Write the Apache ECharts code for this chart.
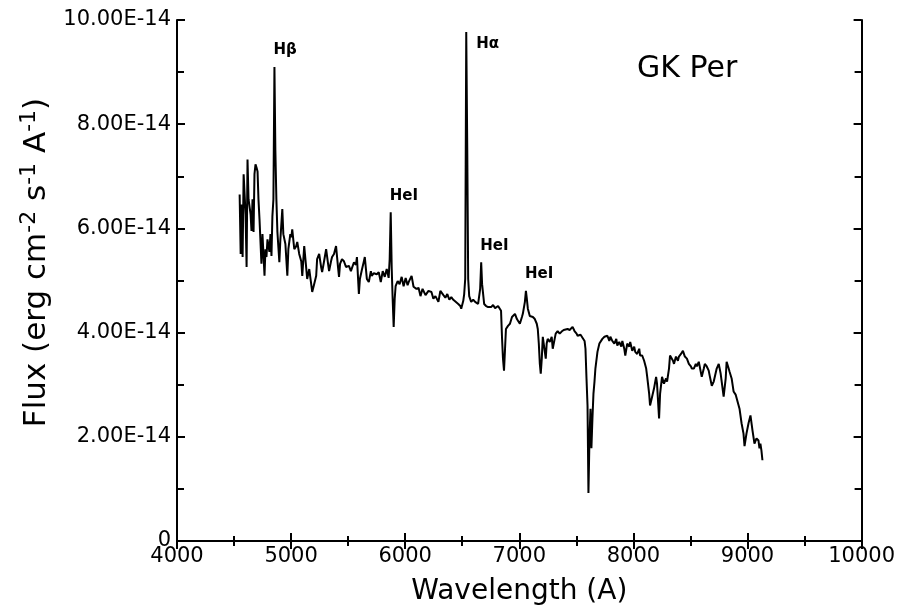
<!DOCTYPE html>
<html>
<head>
<meta charset="utf-8">
<script src="https://cdn.jsdelivr.net/npm/echarts@6/dist/echarts.min.js"></script>
<style>
html,body{margin:0;padding:0;background:#fff;}
#chart{width:898px;height:611px;}
</style>
</head>
<body>
<div id="chart"></div>
<script>
// Wavelength (Angstrom)
const wavelength = [
4549,4558,4566,4575,4584,4601,4610,4618,4627,4645,4653,4662,4671,4679,4688,4697,4706,4714,4723,4740,
4749,4767,4775,4784,4793,4810,4819,4828,4836,4845,4854,4862,4871,4880,4897,4906,4923,4932,4950,4967,
4976,4993,5002,5010,5028,5045,5054,5071,5089,5098,5115,5132,5141,5159,5185,5202,5220,5228,5246,5263,
5272,5289,5307,5324,5333,5350,5359,5376,5394,5411,5420,5429,5446,5463,5481,5507,5524,5551,5568,5577,
5594,5603,5620,5638,5646,5664,5681,5699,5707,5725,5751,5768,5786,5803,5821,5838,5855,5864,5873,5882,
5890,5899,5908,5916,5934,5951,5969,5986,6004,6021,6030,6056,6073,6099,6117,6134,6152,6178,6204,6230,
6247,6265,6291,6308,6335,6352,6369,6387,6404,6422,6439,6465,6483,6491,6509,6517,6526,6535,6544,6552,
6561,6578,6596,6613,6639,6657,6666,6674,6692,6709,6727,6753,6770,6788,6814,6831,6840,6849,6857,6866,
6875,6883,6901,6918,6936,6962,6979,7005,7023,7031,7049,7058,7066,7075,7092,7119,7136,7153,7162,7171,
7180,7188,7197,7206,7214,7232,7240,7249,7267,7284,7293,7310,7319,7336,7354,7371,7389,7397,7423,7441,
7467,7484,7502,7511,7537,7554,7572,7580,7589,7598,7606,7615,7624,7632,7641,7650,7659,7667,7685,7702,
7728,7746,7772,7789,7798,7815,7833,7850,7859,7876,7894,7903,7920,7929,7946,7964,7972,7990,8007,8016,
8033,8051,8059,8077,8094,8112,8120,8138,8146,8164,8181,8199,8207,8225,8234,8251,8268,8286,8295,8312,
8321,8329,8347,8356,8373,8390,8399,8417,8434,8451,8469,8486,8504,8512,8530,8547,8556,8573,8582,8599,
8617,8626,8643,8660,8669,8687,8704,8730,8748,8765,8791,8809,8817,8835,8843,8861,8878,8896,8913,8930,
8948,8965,8974,8991,9009,9026,9044,9061,9079,9096,9105,9113,9122,9131
];
// Flux in units of 1E-14 erg cm^-2 s^-1 A^-1
const flux = [
6.65,5.51,6.46,5.45,7.04,6.27,5.26,7.32,6.56,6.27,5.95,6.56,5.93,7.04,7.23,7.17,7.09,6.56,6.18,5.32,
5.89,5.09,5.60,5.45,5.79,5.55,5.89,5.47,6.23,6.56,9.10,7.51,6.56,5.93,5.35,5.79,6.37,5.89,5.70,5.09,
5.60,5.89,5.83,5.98,5.60,5.66,5.74,5.51,5.37,5.09,5.66,5.66,5.03,5.22,4.78,4.93,5.09,5.41,5.51,5.26,
5.16,5.37,5.60,5.32,5.18,5.37,5.45,5.51,5.66,5.26,5.07,5.32,5.41,5.37,5.26,5.28,5.18,5.35,5.30,5.45,
4.74,5.03,5.20,5.37,5.45,5.03,4.97,5.18,5.09,5.14,5.12,5.16,4.97,5.18,5.07,5.22,5.05,5.41,6.31,5.22,
4.65,4.11,4.65,4.89,4.99,4.93,5.07,4.89,5.05,4.91,4.97,5.09,4.88,4.84,4.86,4.70,4.84,4.72,4.80,4.78,
4.65,4.70,4.59,4.80,4.72,4.67,4.74,4.63,4.68,4.63,4.65,4.55,4.51,4.46,4.61,4.74,5.03,9.77,7.51,5.03,
4.70,4.59,4.63,4.59,4.55,4.84,5.35,4.93,4.55,4.51,4.49,4.49,4.53,4.47,4.51,4.49,4.42,3.88,3.50,3.27,
3.69,4.07,4.13,4.17,4.30,4.36,4.26,4.17,4.30,4.36,4.59,4.80,4.65,4.46,4.32,4.30,4.26,4.17,4.07,3.79,
3.40,3.21,3.50,3.92,3.79,3.50,3.79,3.88,3.82,3.92,3.69,3.88,3.98,4.03,3.98,4.02,4.05,4.03,4.07,4.05,
4.11,4.03,3.98,3.94,3.96,3.94,3.84,3.69,3.12,2.60,0.92,1.97,2.54,1.78,2.35,2.83,3.06,3.31,3.63,3.79,
3.88,3.92,3.94,3.84,3.92,3.84,3.79,3.88,3.75,3.82,3.73,3.84,3.69,3.56,3.79,3.73,3.82,3.65,3.73,3.63,
3.59,3.69,3.56,3.56,3.46,3.31,3.17,2.83,2.60,2.77,2.93,3.15,3.02,2.35,2.83,3.15,3.02,3.12,3.06,3.31,
3.56,3.59,3.46,3.40,3.54,3.46,3.54,3.59,3.65,3.54,3.50,3.40,3.35,3.31,3.31,3.40,3.35,3.44,3.46,3.15,
3.31,3.40,3.35,3.27,3.17,2.98,3.06,3.31,3.40,3.21,2.77,3.12,3.44,3.31,3.25,3.12,2.87,2.81,2.79,2.54,
2.26,2.06,1.82,2.06,2.26,2.41,2.12,1.87,1.97,1.93,1.78,1.87,1.74,1.55
];
// Axis ranges / ticks
const xMin = 4000, xMax = 10000, xStep = 1000;
const yMin = 0, yMax = 10, yStep = 2;
const fluxExponent = -14;
// Emission line identifications (label, approx. wavelength of the peak)
const lineNames = ['Hβ', 'HeI', 'Hα', 'HeI', 'HeI'];
const lineWavelengths = [4854, 5873, 6535, 6666, 7058];
const objectName = 'GK Per';

const FONT = 'DejaVu Sans';
const seriesData = wavelength.map((w, i) => [w, flux[i]]);

function peakNear(wl) {
  let best = -Infinity;
  wavelength.forEach((w, i) => { if (Math.abs(w - wl) <= 15 && flux[i] > best) best = flux[i]; });
  return best;
}
// label placement styles (pixels, relative to the peak)
const labelOffset = { 'Hα': { position: [10, 5], verticalAlign: 'top' } };
const defaultOffset = { position: [-1, -9], verticalAlign: 'bottom' };

const markData = lineNames.map((n, i) => {
  const o = labelOffset[n] || defaultOffset;
  return {
    coord: [lineWavelengths[i], peakNear(lineWavelengths[i])],
    name: n,
    label: { show: true, formatter: '{b}', position: o.position, align: 'left', verticalAlign: o.verticalAlign,
             color: '#000', fontFamily: FONT, fontWeight: 'bold', fontSize: 15 }
  };
});

const tickStyle = { show: true, inside: true, length: 8, lineStyle: { color: '#000', width: 2 } };
const minorStyle = { show: true, splitNumber: 2, length: 5, lineStyle: { color: '#000', width: 2 } };
const axisLineStyle = { color: '#000', width: 2 };

const chart = echarts.init(document.getElementById('chart'), null, { renderer: 'canvas' });
const option = {
  animation: false,
  backgroundColor: '#fff',
  title: {
    text: objectName, left: 632, top: 49,
    textStyle: { fontFamily: FONT, fontWeight: 'normal', fontSize: 30, color: '#000' }
  },
  grid: { left: 177, right: 33, top: 20, bottom: 69, containLabel: false },
  xAxis: [{
    type: 'value', min: xMin, max: xMax, interval: xStep, position: 'bottom',
    name: 'Wavelength (A)', nameLocation: 'middle', nameGap: 37,
    nameTextStyle: { fontFamily: FONT, fontSize: 28, color: '#000' },
    axisLine: { show: true, lineStyle: axisLineStyle },
    axisTick: tickStyle, minorTick: minorStyle,
    axisLabel: { color: '#000', fontFamily: FONT, fontSize: 21, margin: 5, formatter: v => String(v) },
    splitLine: { show: false }, minorSplitLine: { show: false }
  }, {
    type: 'value', min: xMin, max: xMax, interval: xStep, position: 'top',
    axisLine: { show: true, lineStyle: axisLineStyle },
    axisTick: tickStyle, minorTick: minorStyle,
    axisLabel: { show: false }, splitLine: { show: false }, minorSplitLine: { show: false }
  }],
  yAxis: [{
    type: 'value', min: yMin, max: yMax, interval: yStep, position: 'left',
    name: 'Flux (erg cm{sup|-2} s{sup|-1} A{sup|-1})', nameLocation: 'middle', nameGap: 120,
    nameTextStyle: {
      fontFamily: FONT, fontSize: 31, color: '#000', padding: [0, 0, 0, 36],
      rich: { sup: { fontFamily: FONT, fontSize: 22, color: '#000', verticalAlign: 'top', padding: [0, 0, 15, 0] } }
    },
    axisLine: { show: true, lineStyle: axisLineStyle },
    axisTick: tickStyle, minorTick: Object.assign({}, minorStyle, { length: 7 }),
    axisLabel: {
      color: '#000', fontFamily: FONT, fontSize: 21, margin: 6,
      formatter: v => v === 0 ? '0' : v.toFixed(2) + 'E' + fluxExponent
    },
    splitLine: { show: false }, minorSplitLine: { show: false }
  }, {
    type: 'value', min: yMin, max: yMax, interval: yStep, position: 'right',
    axisLine: { show: true, lineStyle: axisLineStyle },
    axisTick: tickStyle, minorTick: Object.assign({}, minorStyle, { length: 7 }),
    axisLabel: { show: false }, splitLine: { show: false }, minorSplitLine: { show: false }
  }],
  series: [{
    type: 'line', xAxisIndex: 0, yAxisIndex: 0,
    data: seriesData, showSymbol: false, symbol: 'none',
    lineStyle: { color: '#000', width: 2 },
    markPoint: { symbol: 'circle', symbolSize: 0, silent: true, data: markData }
  }]
};
chart.setOption(option);
</script>
</body>
</html>
